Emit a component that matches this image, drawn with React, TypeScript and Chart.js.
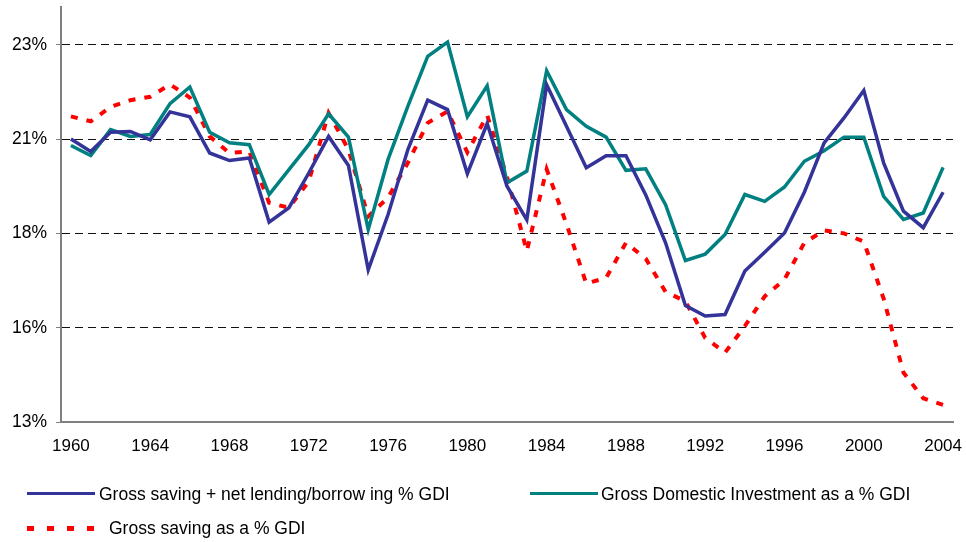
import React, { useEffect, useRef } from 'react';
import { Chart, registerables } from 'chart.js';

Chart.register(...registerables);

const years: string[] = [
  '1960', '1961', '1962', '1963', '1964', '1965', '1966', '1967', '1968', '1969',
  '1970', '1971', '1972', '1973', '1974', '1975', '1976', '1977', '1978', '1979',
  '1980', '1981', '1982', '1983', '1984', '1985', '1986', '1987', '1988', '1989',
  '1990', '1991', '1992', '1993', '1994', '1995', '1996', '1997', '1998', '1999',
  '2000', '2001', '2002', '2003', '2004',
];

const savingPlusLending: number[] = [
  20.5, 20.17, 20.68, 20.7, 20.48, 21.22, 21.09, 20.13, 19.93, 20.0,
  18.3, 18.68, 19.6, 20.57, 19.8, 17.03, 18.5, 20.22, 21.53, 21.28,
  19.58, 20.91, 19.25, 18.36, 21.94, 20.84, 19.74, 20.06, 20.06, 19.02,
  17.75, 16.09, 15.81, 15.85, 17.0, 17.5, 18.01, 19.09, 20.4, 21.06,
  21.79, 19.87, 18.59, 18.15, 19.09,
];

const domesticInvestment: number[] = [
  20.33, 20.06, 20.75, 20.57, 20.62, 21.44, 21.88, 20.68, 20.4, 20.35,
  19.03, 19.69, 20.35, 21.17, 20.55, 18.1, 19.96, 21.37, 22.69, 23.07,
  21.09, 21.91, 19.34, 19.65, 22.31, 21.28, 20.84, 20.55, 19.67, 19.71,
  18.76, 17.28, 17.45, 17.97, 19.03, 18.85, 19.23, 19.91, 20.19, 20.55,
  20.55, 18.98, 18.37, 18.54, 19.75,
];

const grossSaving: number[] = [
  21.1, 20.97, 21.35, 21.53, 21.62, 21.95, 21.6, 20.57, 20.13, 20.17,
  18.81, 18.68, 19.38, 21.19, 20.22, 18.45, 18.95, 19.87, 20.93, 21.23,
  20.15, 21.13, 19.5, 17.53, 19.7, 18.25, 16.67, 16.82, 17.75, 17.33,
  16.45, 16.2, 15.23, 14.84, 15.54, 16.33, 16.78, 17.75, 18.08, 18.0,
  17.78, 16.27, 14.31, 13.63, 13.45,
];

const yTickValues: number[] = [13, 15.5, 18, 20.5, 23];
const yTickLabels: string[] = ['13%', '16%', '18%', '21%', '23%'];
const xLabelStep = 4;

const seriesNames: string[] = [
  'Gross saving + net lending/borrow ing % GDI',
  'Gross Domestic Investment as a % GDI',
  'Gross saving as a % GDI',
];
const seriesColors: string[] = ['#333399', '#008080', '#FF0000'];

const FONT = "Arial, 'Liberation Sans', Helvetica, sans-serif";

export default function App() {
  const ref = useRef<HTMLCanvasElement>(null);

  useEffect(() => {
    if (!ref.current) return;
    const chart = new Chart(ref.current, {
      type: 'line',
      data: {
        labels: years,
        datasets: [
          {
            label: seriesNames[0],
            data: savingPlusLending,
            borderColor: seriesColors[0],
            backgroundColor: seriesColors[0],
            borderWidth: 3.5,
            pointRadius: 0,
            tension: 0,
          },
          {
            label: seriesNames[1],
            data: domesticInvestment,
            borderColor: seriesColors[1],
            backgroundColor: seriesColors[1],
            borderWidth: 3.5,
            pointRadius: 0,
            tension: 0,
          },
          {
            label: seriesNames[2],
            data: grossSaving,
            borderColor: seriesColors[2],
            backgroundColor: seriesColors[2],
            borderWidth: 4,
            borderDash: [7, 9],
            borderCapStyle: 'butt',
            pointRadius: 0,
            tension: 0,
          },
        ],
      },
      options: {
        responsive: false,
        animation: false,
        devicePixelRatio: 1,
        layout: { padding: { top: 7, right: 13, bottom: 79, left: 0 } },
        plugins: {
          legend: { display: false },
          tooltip: { enabled: false },
        },
        scales: {
          x: {
            type: 'category',
            offset: true,
            grid: { display: false, drawTicks: false },
            border: { display: true, color: '#808080', width: 2 },
            ticks: {
              autoSkip: false,
              maxRotation: 0,
              minRotation: 0,
              padding: 14,
              color: '#000',
              font: { family: FONT, size: 17 },
              callback: (_v: any, i: number) => (i % xLabelStep === 0 ? years[i] : ''),
            },
            afterFit: (s: any) => {
              s.height = 41;
              s.paddingLeft = 0;
              s.paddingRight = 0;
            },
          },
          y: {
            type: 'linear',
            min: 13,
            max: 24,
            afterBuildTicks: (s: any) => {
              s.ticks = yTickValues.map((v) => ({ value: v }));
            },
            grid: {
              color: '#111',
              lineWidth: 1,
              drawTicks: true,
              tickLength: 5,
              tickColor: '#808080',
            },
            border: { display: true, color: '#808080', width: 2, dash: [8, 5] },
            ticks: {
              padding: 9,
              color: '#000',
              font: { family: FONT, size: 17.5 },
              callback: (v: any) => {
                const i = yTickValues.indexOf(Number(v));
                return i >= 0 ? yTickLabels[i] : '';
              },
            },
            afterFit: (s: any) => {
              s.width = 61;
              s.paddingTop = 0;
              s.paddingBottom = 0;
            },
          },
        },
      },
    });
    return () => chart.destroy();
  }, []);

  const textStyle: React.CSSProperties = {
    position: 'absolute',
    fontFamily: FONT,
    fontSize: 17.5,
    lineHeight: '20px',
    color: '#000',
    whiteSpace: 'nowrap',
  };

  return (
    <div
      style={{
        position: 'fixed',
        left: 0,
        top: 0,
        width: 966,
        height: 542,
        background: '#fff',
        overflow: 'hidden',
      }}
    >
      <canvas ref={ref} width={966} height={542} style={{ display: 'block' }} />
      <div style={{ position: 'absolute', left: 27, top: 492, width: 68, height: 3, background: seriesColors[0] }} />
      <div style={{ ...textStyle, left: 99, top: 484 }}>{seriesNames[0]}</div>
      <div style={{ position: 'absolute', left: 530, top: 492, width: 68, height: 3, background: seriesColors[1] }} />
      <div style={{ ...textStyle, left: 601, top: 484 }}>{seriesNames[1]}</div>
      <div
        style={{
          position: 'absolute',
          left: 27,
          top: 526,
          width: 68,
          height: 5,
          background: `repeating-linear-gradient(to right, ${seriesColors[2]} 0px, ${seriesColors[2]} 7px, transparent 7px, transparent 20px)`,
        }}
      />
      <div style={{ ...textStyle, left: 109, top: 518 }}>{seriesNames[2]}</div>
    </div>
  );
}
